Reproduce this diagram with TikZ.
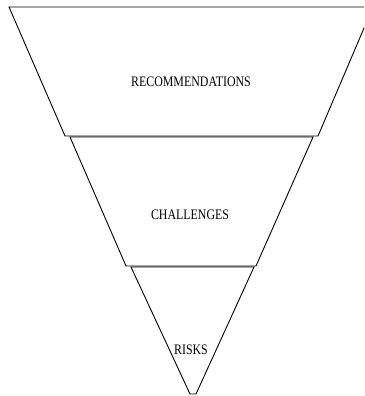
\documentclass[tikz,border=0pt]{standalone}
\usepackage{fontspec}
\setmainfont{Liberation Serif}

\begin{document}
\begin{tikzpicture}[x=1pt,y=-1pt]
        % Setup the styles for the layers
        \tikzset{layer style/.style={draw=black,
                                     line width=0.9pt,
                                     line join=miter},
                 label style/.style={inner sep=0pt,
                                     xscale=0.82,
                                     font=\fontsize{14.5}{17}\selectfont}}

        \useasboundingbox (0,0) rectangle (364,396);
        \clip (0,0) rectangle (364,396);

        % Draw the layers of the funnel
        \draw[layer style] (9,7) -- (373,7) -- (318,136) -- (65,136) -- cycle;
        \draw[layer style] (70,137) -- (313,137) -- (256,266) -- (126,266) -- cycle;
        \draw[layer style] (131,267) -- (254,267) -- (196,394) -- (190,394) -- cycle;

        % Put the labels in the layers
        \node[label style] at (191,82)  (recs)  {RECOMMENDATIONS};
        \node[label style] at (190,215) (chall) {CHALLENGES};
        \node[label style] at (191,350) (risks) {RISKS};
\end{tikzpicture}
\end{document}
